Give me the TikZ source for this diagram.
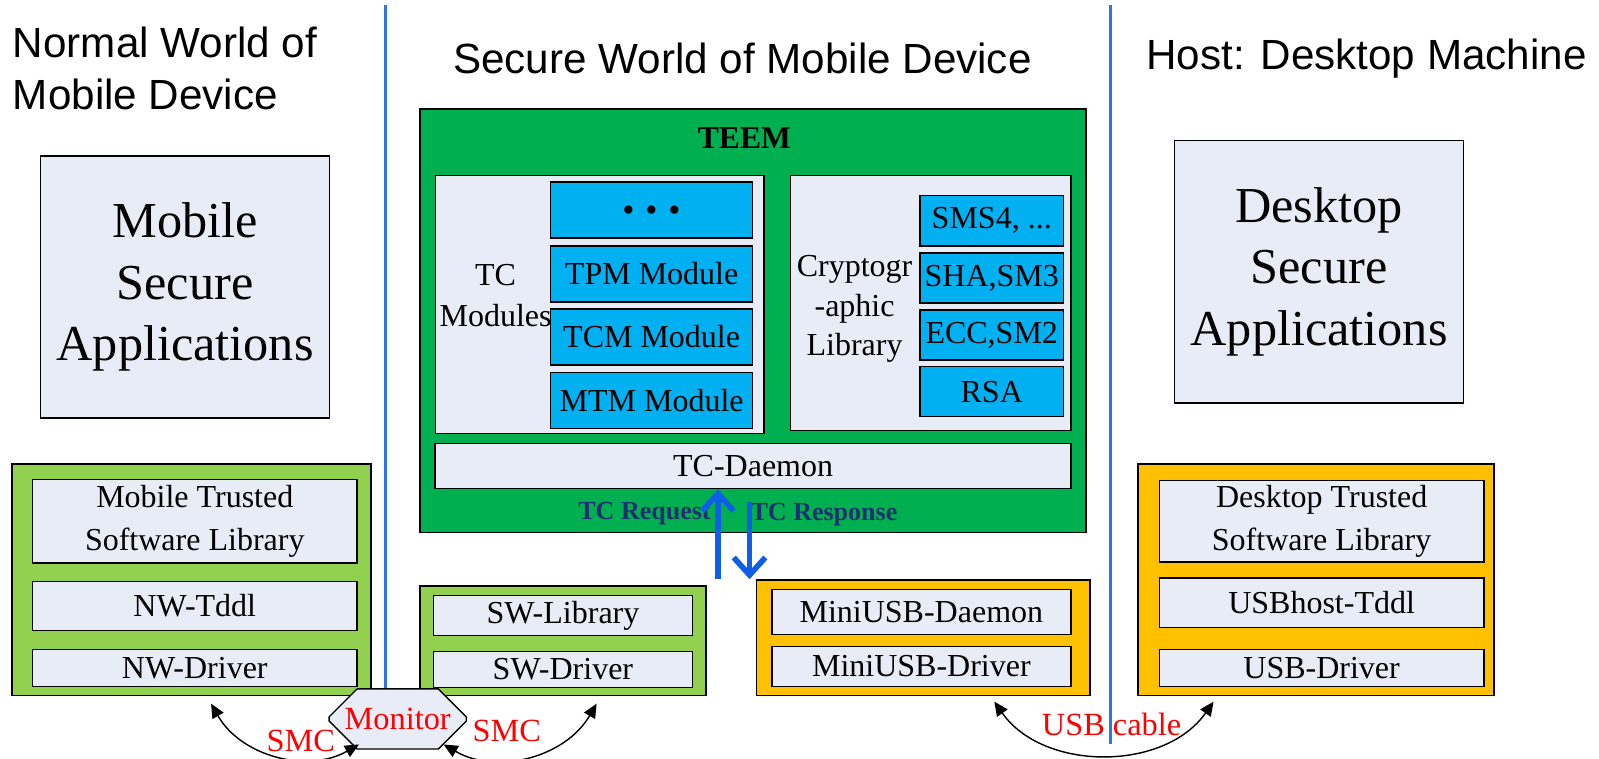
\documentclass[tikz,border=0pt]{standalone}
\usepackage{fontspec}
\setmainfont{Liberation Serif}
\newfontfamily\titlefont{Liberation Sans}
\usetikzlibrary{arrows.meta,shapes.misc}
\definecolor{lightbox}{HTML}{E7ECF6}
\definecolor{litegreen}{HTML}{92D050}
\definecolor{teemgreen}{HTML}{00B050}
\definecolor{modblue}{HTML}{00B0F0}
\definecolor{usborange}{HTML}{FFC000}
\definecolor{sepblue}{HTML}{3473E6}
\definecolor{reqblue}{HTML}{0E5FE6}
\definecolor{reqnavy}{HTML}{1F3070}

\begin{document}
\begin{tikzpicture}[x=0.0102cm,y=-0.0102cm]
\tikzstyle{world}=[font=\titlefont\fontsize{12}{14.8}\selectfont]
\tikzstyle{appbox}=[draw, fill=lightbox, minimum width=2.887cm, minimum height=2.621cm, align=center, font=\fontsize{14.3}{17.4}\selectfont]
\tikzstyle{outer}=[draw, line width=0.5pt, inner sep=0pt]
\tikzstyle{inbox}=[draw, fill=lightbox, inner sep=0pt, align=center, font=\fontsize{9.1}{12.2}\selectfont]
\tikzstyle{modbox}=[draw, fill=modblue, inner sep=0pt, font=\fontsize{9.1}{11}\selectfont]
\tikzstyle{redtext}=[text=red, font=\fontsize{9.2}{11}\selectfont]
\tikzstyle{req}=[text=reqnavy, font=\bfseries\fontsize{7.4}{9}\selectfont]
\tikzstyle{bi}=[<->, >={Triangle[length=4pt,width=3.6pt]}, line width=0.4pt]

\useasboundingbox (0,0) rectangle (1568,744);

% titles
\node[world, anchor=west, align=left, inner sep=0pt] (nwtitle) at (12,67.5) {Normal World of\\Mobile Device};
\node[world] (swtitle) at (728,57) {Secure World of Mobile Device};
\node[world] (hosttitle) at (1340,57) {Host: Desktop Machine};

% applications
\node[appbox] (mobapp) at (181.5,281.5) {Mobile\\Secure\\Applications};
\node[appbox] (deskapp) at (1293.5,266.5) {Desktop\\Secure\\Applications};

% normal world stack
\node[outer, fill=litegreen, minimum width=3.59cm, minimum height=2.315cm] (nw) at (188,568.5) {};
\node[inbox, minimum width=3.244cm, minimum height=0.836cm] (mtsl) at (191,511) {Mobile Trusted\\Software Library};
\node[inbox, minimum width=3.244cm, minimum height=0.49cm] (nwtddl) at (191,594) {NW-Tddl};
\node[inbox, minimum width=3.244cm, minimum height=0.367cm] (nwdrv) at (191,655) {NW-Driver};

% TEEM
\node[outer, fill=teemgreen, minimum width=6.661cm, minimum height=4.233cm] (teem) at (738.5,314.5) {};
\node[font=\bfseries\fontsize{9}{11}\selectfont] (teemlabel) at (730,135) {TEEM};
\node[inbox, minimum width=3.284cm, minimum height=2.581cm] (tcmod) at (588,298.5) {};
\node[inbox, minimum width=2.805cm, minimum height=2.55cm] (crypto) at (912.5,297) {};
\node[align=center, font=\fontsize{9.1}{11.6}\selectfont] (tclabel) at (486,290) {TC\\Modules};
\node[align=center, font=\fontsize{9.1}{11.3}\selectfont] (cryptolabel) at (838,303) {Cryptogr\\-aphic\\Library};

\foreach \n/\y/\t in {dots/206/{\bfseries\Large .\hspace{3pt}.\hspace{3pt}.},tpm/268.5/TPM Module,tcm/330.5/TCM Module,mtm/392.5/MTM Module}
  \node[modbox, minimum width=2.02cm, minimum height=0.56cm] (\n) at (639,\y) {\t};
\foreach \n/\y/\t in {sms/216.5/{SMS4, ...},sha/272.5/{SHA,SM3},ecc/328.5/{ECC,SM2},rsa/384/RSA}
  \node[modbox, minimum width=1.438cm, minimum height=0.5cm] (\n) at (972.5,\y) {\t};

\node[inbox, minimum width=6.355cm, minimum height=0.449cm] (daemon) at (738.5,457) {TC-Daemon};
\node[req] (tcreq) at (632,504) {TC Request};
\node[req] (tcresp) at (808,505) {TC Response};

% secure world drivers
\node[outer, fill=litegreen, minimum width=2.856cm, minimum height=1.091cm] (sw) at (552,628.5) {};
\node[inbox, minimum width=2.591cm, minimum height=0.398cm] (swlib) at (552,603.5) {SW-Library};
\node[inbox, minimum width=2.591cm, minimum height=0.357cm] (swdrv) at (552,656.5) {SW-Driver};

\node[outer, fill=usborange, minimum width=3.335cm, minimum height=1.153cm] (usb) at (905.5,625.5) {};
\node[inbox, minimum width=2.989cm, minimum height=0.449cm] (musbd) at (903.5,600) {MiniUSB-Daemon};
\node[inbox, minimum width=2.989cm, minimum height=0.398cm] (musbdrv) at (903.5,653.5) {MiniUSB-Driver};

% host stack
\node[outer, fill=usborange, minimum width=3.56cm, minimum height=2.315cm] (host) at (1290.5,568.5) {};
\node[inbox, minimum width=3.244cm, minimum height=0.816cm] (dtsl) at (1296,511) {Desktop Trusted\\Software Library};
\node[inbox, minimum width=3.244cm, minimum height=0.49cm] (usbtddl) at (1296,591) {USBhost-Tddl};
\node[inbox, minimum width=3.244cm, minimum height=0.367cm] (usbdrv) at (1296,655) {USB-Driver};

% request / response
\coordinate (reqbot) at (704,568);
\coordinate (resptop) at (735,492);
\coordinate (respbot) at (735,568);
\draw[reqblue, line width=1.6pt, -{Straight Barb[length=5pt,width=9pt]}] (reqbot) -- (reqbot |- daemon.south);
\draw[reqblue, line width=1.6pt, -{Straight Barb[length=5pt,width=9pt]}] (resptop) -- (respbot);

% separators
\node[draw, fill=lightbox, chamfered rectangle, chamfered rectangle xsep=0.27cm, chamfered rectangle ysep=0.17cm, inner sep=0pt, minimum width=1.37cm, minimum height=0.6cm, text=red, font=\fontsize{9.2}{11}\selectfont] (monitor) at (390,705) {Monitor};
\coordinate (sepltop) at (378,5);
\coordinate (seprtop) at (1089,5);
\coordinate (seprbot) at (1089,730);
\draw[sepblue, line width=0.8pt] (sepltop) -- (sepltop |- monitor.north);
\draw[sepblue, line width=0.8pt] (seprtop) -- (seprbot);

% smc and cable
\coordinate (smcla) at (207,690);
\coordinate (smclb) at (352,730);
\coordinate (smcra) at (435,730);
\coordinate (smcrb) at (585,690);
\coordinate (cabla) at (975,688);
\coordinate (cablb) at (1190,688);
\draw[bi] (smcla) to[bend right=45] (smclb);
\draw[bi] (smcra) to[bend right=45] (smcrb);
\draw[bi] (cabla) to[bend right=55] (cablb);
\node[redtext] (smcl) at (295,727) {SMC};
\node[redtext] (smcr) at (497,717) {SMC};
\node[redtext] (cable) at (1090,710) {USB cable};

\end{tikzpicture}
\end{document}
